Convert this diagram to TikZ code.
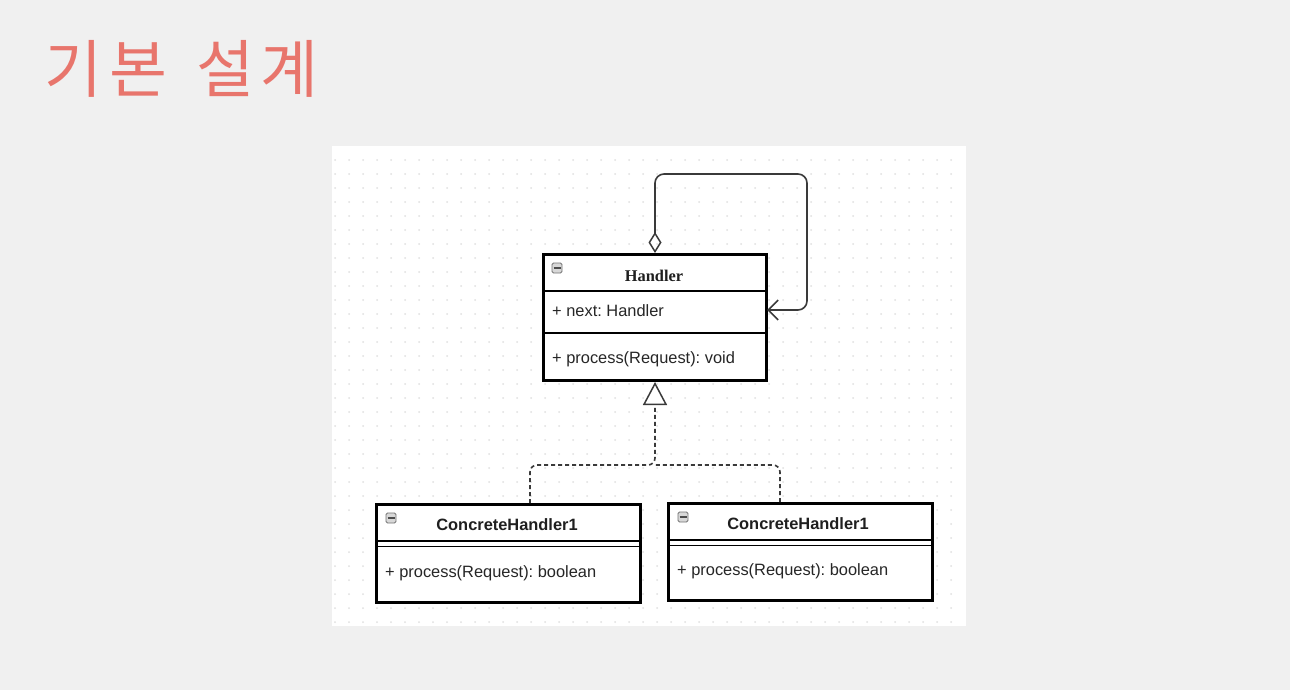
\documentclass[tikz,border=0pt]{standalone}
\usepackage{fontspec}
\setmainfont{Liberation Sans}
\newfontfamily\cjkfont{Noto Sans CJK KR}
\newfontfamily\serifb{Liberation Serif}
\usetikzlibrary{arrows.meta}
\frenchspacing
\definecolor{bgc}{HTML}{F0F0F0}
\definecolor{titlec}{HTML}{E8756C}
\definecolor{dotc}{HTML}{E0E0E0}
\definecolor{linec}{HTML}{3A3A3A}
\definecolor{iconc}{HTML}{D8D8D8}
\tikzset{
  umlbox/.style={draw=black, line width=3pt, fill=white, minimum width=#1, inner sep=0pt},
  septhick/.style={line width=2.8pt},
  septhin/.style={line width=1.3pt},
  txt/.style={anchor=base west, inner sep=0pt, font=\fontsize{16.4}{18}\selectfont, text=black!85},
  titletxt/.style={anchor=base, inner sep=0pt, font=\fontsize{16.4}{18}\selectfont\bfseries, text=black!88},
  icon/.style={draw=black!55, fill=iconc, line width=0.9pt, rounded corners=1.5pt, minimum width=10pt, minimum height=10pt, inner sep=0pt},
  conn/.style={draw=linec, line width=1.6pt, rounded corners=9pt},
}
\begin{document}
\begin{tikzpicture}[x=1pt,y=-1pt]
\useasboundingbox (0,0) rectangle (1290,690);
\fill[bgc] (0,0) rectangle (1290,690);
% white panel with dotted grid
\fill[white] (332,146) rectangle (966,626);
\foreach \i in {0,...,44}{
  \foreach \j in {0,...,33}{
    \fill[dotc] (335+14*\i,160+14*\j) circle (1);
  }
}
% title
\node[anchor=base west, inner sep=0pt, text=titlec, font=\cjkfont\fontsize{63}{70}\selectfont\addfontfeature{LetterSpace=11}] (title) at (44,93) {기본\hspace{8pt} 설계};

% Handler class
\node[umlbox=223pt, minimum height=126pt] (h) at (654.5,317) {};
\draw[septhick] (543,291) -- (766,291);
\draw[septhin] (543,333) -- (766,333);
\node[icon] (hicon) at (557,268) {};
\draw[black!70, line width=1.2pt] (553.5,268) -- (560.5,268);
\node[titletxt, font=\serifb\fontsize{16.4}{18}\selectfont\bfseries] (hname) at (654,281) {Handler};
\node[txt] (hattr) at (552,316) {+ next: Handler};
\node[txt] (hop) at (552,363) {+ process(Request): void};

% Concrete handler 1 (left)
\node[umlbox=264pt, minimum height=98pt] (c1) at (508,553) {};
\draw[septhick] (376,541) -- (640,541);
\draw[septhin] (376,546.5) -- (640,546.5);
\node[icon] (c1icon) at (391,518) {};
\draw[black!70, line width=1.2pt] (387.5,518) -- (394.5,518);
\node[titletxt] (c1name) at (507,530) {ConcreteHandler1};
\node[txt] (c1op) at (385,577) {+ process(Request): boolean};

% Concrete handler 1 (right)
\node[umlbox=264pt, minimum height=97pt] (c2) at (800,551.5) {};
\draw[septhick] (668,540) -- (932,540);
\draw[septhin] (668,545.5) -- (932,545.5);
\node[icon] (c2icon) at (683,517) {};
\draw[black!70, line width=1.2pt] (679.5,517) -- (686.5,517);
\node[titletxt] (c2name) at (798,529) {ConcreteHandler1};
\node[txt] (c2op) at (677,575) {+ process(Request): boolean};

% self association
\coordinate (selfin) at (767,310);
\draw[conn, {Diamond[open,length=21pt,width=13pt,line width=1.5pt]}-{Straight Barb[length=10pt,width=20pt,line width=1.6pt]}]
  (655,253) -- (655,174) -- (807,174) -- (807,310) -- (selfin);

% realization
\coordinate (j) at (655,465);
\draw[conn, dashed, dash pattern=on 4pt off 3pt, rounded corners=7pt, -{Triangle[open,length=23pt,width=24pt,line width=1.5pt,fill=white]}]
  (530,503) -- (530,465) -- (655,465) -- (655,382);
\draw[conn, dashed, dash pattern=on 4pt off 3pt, rounded corners=7pt]
  (780,502) -- (780,465) -- (655,465);
\end{tikzpicture}
\end{document}
